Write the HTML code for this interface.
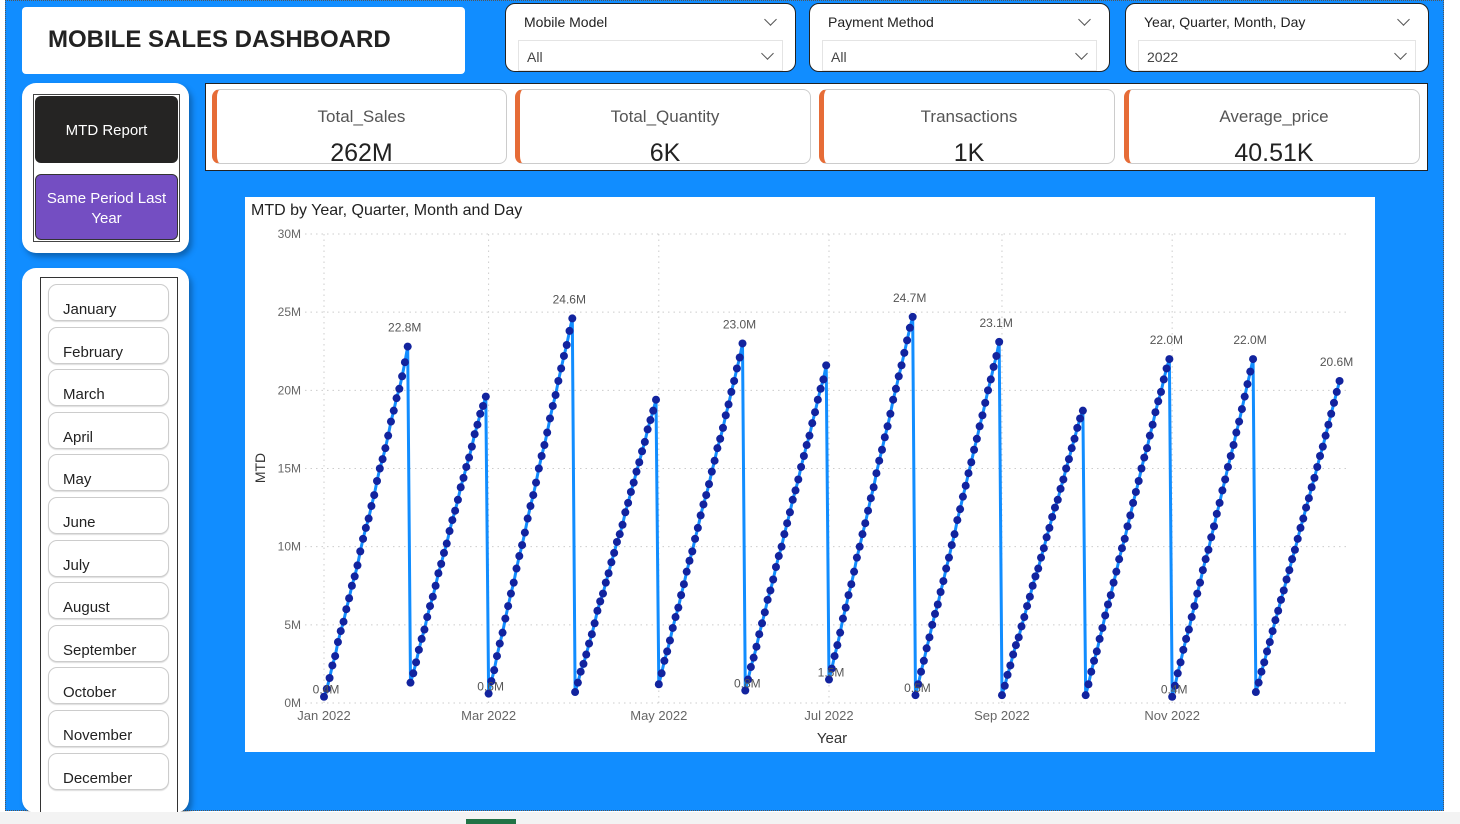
<!DOCTYPE html>
<html><head><meta charset="utf-8">
<style>
*{box-sizing:border-box;margin:0;padding:0}
body{width:1460px;height:824px;overflow:hidden;background:#fff;font-family:"Liberation Sans","DejaVu Sans",sans-serif;position:relative}
#bg{position:absolute;left:5px;top:0;width:1439px;height:811px;background:#118DFF;border:1px dotted #555}
.abs{position:absolute}
.white{background:#fff}
.slicer{position:absolute;top:3px;height:69px;background:#fff;border:1px solid #222;border-radius:10px}
.slicer .h{position:absolute;left:18px;top:10px;font-size:14px;color:#222}
.slicer .dd{position:absolute;left:12px;right:12px;top:36px;height:31px;border:1px solid #e4e4e4;font-size:14px;color:#444;padding:8px 0 0 8px}
.chev{position:absolute;width:9px;height:9px;border-right:1.3px solid #555;border-bottom:1.3px solid #555;transform:rotate(45deg)}
.card{position:absolute;top:89px;height:75px;background:#fff;border:1px solid #ccc;border-left:5px solid #E66C37;border-radius:8px;text-align:center}
.card .t{margin-top:17px;font-size:17px;color:#555}
.card .v{margin-top:12px;font-size:25px;color:#222}
.mbtn{position:absolute;left:48px;width:121px;height:37px;border:1px solid #ccc;border-radius:9px;background:#fff;font-size:15px;color:#222;padding:16px 0 0 14px;box-shadow:0 1px 1px #ddd}
</style></head><body>
<div id="bg"></div>
<div class="abs white" style="left:22px;top:7px;width:443px;height:67px;border-radius:4px">
  <div style="position:absolute;left:26px;top:19px;font-size:24px;font-weight:bold;color:#222">MOBILE SALES DASHBOARD</div>
</div>
<div class="slicer" style="left:505px;width:291px"><div class="h">Mobile Model</div><div class="chev" style="right:20px;top:11px"></div><div class="dd">All<div class="chev" style="right:10px;top:8px"></div></div></div>
<div class="slicer" style="left:809px;width:301px"><div class="h">Payment Method</div><div class="chev" style="right:20px;top:11px"></div><div class="dd">All<div class="chev" style="right:10px;top:8px"></div></div></div>
<div class="slicer" style="left:1125px;width:304px"><div class="h">Year, Quarter, Month, Day</div><div class="chev" style="right:20px;top:11px"></div><div class="dd">2022<div class="chev" style="right:10px;top:8px"></div></div></div>

<div class="abs white" style="left:205px;top:83px;width:1223px;height:88px;border:1px solid #222"></div>
<div class="card" style="left:212px;width:295px"><div class="t">Total_Sales</div><div class="v">262M</div></div>
<div class="card" style="left:515px;width:296px"><div class="t">Total_Quantity</div><div class="v">6K</div></div>
<div class="card" style="left:819px;width:296px"><div class="t">Transactions</div><div class="v">1K</div></div>
<div class="card" style="left:1124px;width:296px"><div class="t">Average_price</div><div class="v">40.51K</div></div>

<div class="abs white" style="left:22px;top:83px;width:167px;height:170px;border-radius:14px;box-shadow:3px 4px 6px rgba(0,0,0,.3)">
  <div class="abs" style="left:11px;top:11px;width:147px;height:148px;border:1px solid #444"></div>
  <div class="abs" style="left:13px;top:13px;width:143px;height:67px;background:#252423;border-radius:6px;color:#fff;font-size:15px;text-align:center;padding-top:26px">MTD Report</div>
  <div class="abs" style="left:13px;top:91px;width:143px;height:66px;background:#744EC2;border-radius:6px;color:#fff;font-size:15px;text-align:center;padding-top:14px;line-height:20px;border:1px solid #333">Same Period Last<br>Year</div>
</div>
<div class="abs white" style="left:22px;top:268px;width:167px;height:545px;border-radius:14px;box-shadow:3px 4px 6px rgba(0,0,0,.3)">
  <div class="abs" style="left:18px;top:9px;width:138px;height:540px;border:1px solid #333"></div>
</div>
<div id="months"></div>

<div class="abs white" style="left:245px;top:197px;width:1130px;height:555px">
<svg id="chart" width="1130" height="555" style="position:absolute;left:0;top:0"></svg>
</div>
<div class="abs" style="left:0;top:812px;width:1460px;height:12px;background:#f3f3f3"></div>
<div class="abs" style="left:466px;top:819px;width:50px;height:5px;background:#217346"></div>

<script>
const monthNames=["January","February","March","April","May","June","July","August","September","October","November","December"];
const mc=document.getElementById('months');
monthNames.forEach((m,i)=>{const d=document.createElement('div');d.className='mbtn';d.style.top=(284+i*42.6)+'px';d.textContent=m;


mc.appendChild(d);});

// daily sales in units of 0.1M, per month
const jan=[4,5,7,8,6,9,7,6,8,7,8,6,7,9,8,7,6,8,7,9,8,6,7,8,9,7,8,6,8,9,10];
const feb=[13,6,7,8,7,6,8,7,6,7,8,6,7,6,8,7,6,7,8,6,7,6,7,8,6,7,5,6];
const mar=[6,8,7,9,8,7,9,8,8,7,9,8,7,8,9,8,7,8,9,8,7,8,9,8,7,9,8,8,7,9,8];
const apr=[7,6,7,5,6,7,6,7,8,6,5,7,6,7,6,7,5,6,8,6,7,6,7,6,7,6,8,6,6,7];
const may=[12,7,8,6,7,8,7,6,8,7,8,7,6,8,7,8,7,6,7,8,7,8,6,7,8,7,8,7,8,7,9];
const jun=[8,7,8,6,7,8,7,7,8,6,7,8,7,6,8,7,7,8,6,7,8,7,7,6,8,7,8,7,6,9];
const jul=[15,7,8,7,8,9,7,8,7,8,9,7,8,7,8,8,7,9,8,7,8,7,8,9,7,8,7,8,8,8,7];
const aug=[5,7,8,7,8,7,8,7,6,8,7,8,7,8,7,9,7,8,7,8,7,8,7,8,7,8,8,7,8,7,9];
const sep=[5,6,7,6,7,6,5,7,6,7,6,7,6,5,7,6,7,6,7,6,5,7,6,7,6,7,6,7,6,5];
const oct=[5,7,8,7,6,8,7,8,7,6,8,7,8,7,6,8,7,8,7,7,8,7,6,8,7,8,7,6,8,7,6];
const nov=[4,7,8,7,8,7,6,8,7,8,7,8,7,6,8,7,8,7,8,7,8,7,7,8,7,8,8,8,8,8];
const dec=[7,6,7,6,7,6,7,7,6,7,6,7,6,7,6,7,7,6,7,6,7,6,7,7,6,7,7,7,7,7,7];
const months=[jan,feb,mar,apr,may,jun,jul,aug,sep,oct,nov,dec];
const yTicks=[0,5,10,15,20,25,30];
const xTickLabels=["Jan 2022","Mar 2022","May 2022","Jul 2022","Sep 2022","Nov 2022"];
const xTickDays=[0,59,120,181,243,304];
const peakLabelMonths=[0,2,4,6,7,9,10,11];
const startLabelMonths=[0,2,5,6,7,10];

const svg=document.getElementById('chart');const NS='http://www.w3.org/2000/svg';
const ox=245,oy=197;
const X=d=>324-ox+d*2.79;
const Y=v=>703-oy-v*15.633;
function el(t,a,txt){const e=document.createElementNS(NS,t);for(const k in a)e.setAttribute(k,a[k]);if(txt!==undefined)e.textContent=txt;svg.appendChild(e);return e;}
let e=el('text',{x:6,y:18,'font-size':16,fill:'#222'},'MTD by Year, Quarter, Month and Day');


yTicks.forEach(t=>{let g=el('line',{x1:60,x2:1103,y1:Y(t),y2:Y(t),stroke:'#ccc','stroke-dasharray':'1.5 4'});


let l=el('text',{x:56,y:Y(t)+4,'font-size':12,fill:'#666','text-anchor':'end'},t+'M');

});
xTickDays.forEach((d,i)=>{let g=el('line',{x1:X(d),x2:X(d),y1:Y(30),y2:Y(0),stroke:'#ccc','stroke-dasharray':'1.5 4'});


let l=el('text',{x:X(d),y:523,'font-size':13,fill:'#666','text-anchor':'middle'},xTickLabels[i]);

});
e=el('text',{x:587,y:546,'font-size':15,fill:'#333','text-anchor':'middle'},'Year');


e=el('text',{x:0,y:0,'font-size':14,fill:'#333','text-anchor':'middle',transform:'translate(20,271) rotate(-90)'},'MTD');



const pts=[];const firsts=[],lasts=[];let day=0;
months.forEach((arr,mi)=>{let c=0;arr.forEach((v,j)=>{c+=v/10;pts.push([X(day),Y(c)]);if(j===0)firsts.push([X(day),Y(c),c]);if(j===arr.length-1)lasts.push([X(day),Y(c),c]);day++;});});
e=el('polyline',{points:pts.map(p=>p.join(',')).join(' '),fill:'none',stroke:'#118DFF','stroke-width':3});


pts.forEach(p=>{let c=el('circle',{cx:p[0],cy:p[1],r:4,fill:'#12239E'});

});
peakLabelMonths.forEach(m=>{const p=lasts[m];let t=el('text',{x:p[0]-3,y:p[1]-15,'font-size':12,fill:'#555','text-anchor':'middle'},p[2].toFixed(1)+'M');

});
startLabelMonths.forEach(m=>{const p=firsts[m];let t=el('text',{x:p[0]+2,y:p[1]-3,'font-size':12,fill:'#555','text-anchor':'middle'},p[2].toFixed(1)+'M');

});
</script>
</body></html>
